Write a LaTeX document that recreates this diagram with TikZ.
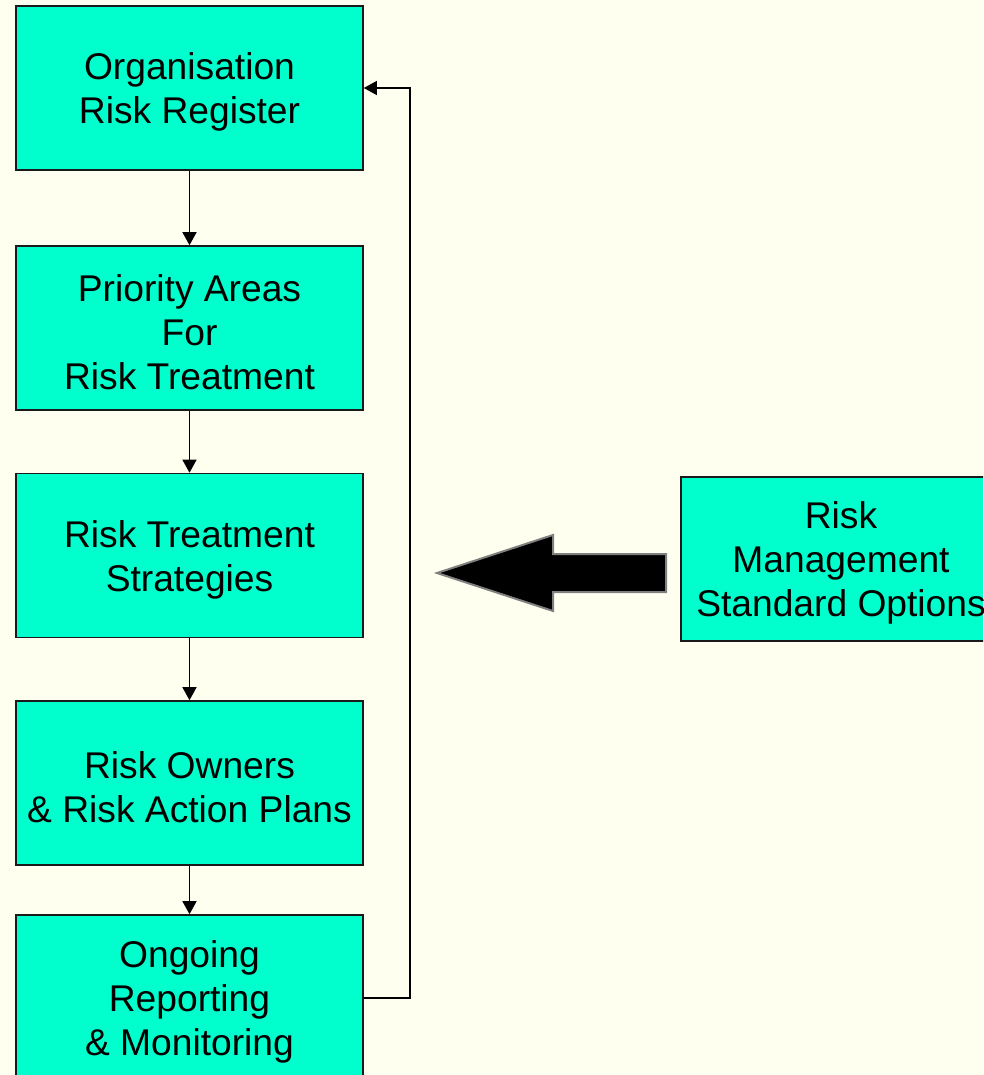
\documentclass[tikz,border=0pt]{standalone}
\usepackage{fontspec}
\setmainfont{Liberation Sans}
\usetikzlibrary{arrows.meta}
\definecolor{paper}{HTML}{FFFFF0}
\definecolor{boxfill}{HTML}{00FFCC}
\definecolor{boxline}{HTML}{1A1A1A}
\definecolor{arrowedge}{HTML}{808080}
% extra head room on the first line of each box text
\newcommand\topgap{\rule{0pt}{35pt}}
\begin{document}
\begin{tikzpicture}[x=1pt,y=-1pt,
  stepbox/.style={draw=boxline, line width=1.6pt, fill=boxfill,
    minimum width=347pt, minimum height=164pt, inner sep=0pt,
    align=center, font=\fontsize{37.2}{44}\selectfont},
  flow/.style={draw=black, line width=1.4pt,
    -{Triangle[length=13pt,width=14pt]}}]
  % page and its background
  \fill[paper] (0,0) rectangle (983,1075);
  \useasboundingbox (0,0) rectangle (983,1075);
  \clip (0,0) rectangle (983,1075);

  % main column of steps
  \node[stepbox] (reg)   at (189.5,88)    {\topgap Organisation\\Risk Register};
  \node[stepbox] (prio)  at (189.5,328)   {\topgap Priority Areas\\For\\Risk Treatment};
  \node[stepbox] (strat) at (189.5,555.5) {\topgap Risk Treatment\\Strategies};
  \node[stepbox] (own)   at (189.5,783)   {\topgap Risk Owners\\\& Risk Action Plans};
  \node[stepbox, minimum height=166pt] (mon) at (189.5,998) {\topgap Ongoing\\Reporting\\\& Monitoring};

  % side input box
  \node[stepbox, minimum width=320pt] (opts) at (841,559) {\topgap Risk\\Management\\Standard Options};

  % downward flow
  \draw[flow] (reg)   -- (prio);
  \draw[flow] (prio)  -- (strat);
  \draw[flow] (strat) -- (own);
  \draw[flow] (own)   -- (mon);

  % feedback loop back to the register
  \coordinate (loop) at (410,998);
  \draw[flow] (mon.east) -- (loop) |- (reg.east);

  % large block arrow from the options box
  \draw[draw=arrowedge, line width=2pt, fill=black, line join=miter]
    (437,573) -- (553,535) -- (553,554) -- (666,554) -- (666,592)
    -- (553,592) -- (553,611) -- cycle;
\end{tikzpicture}
\end{document}
